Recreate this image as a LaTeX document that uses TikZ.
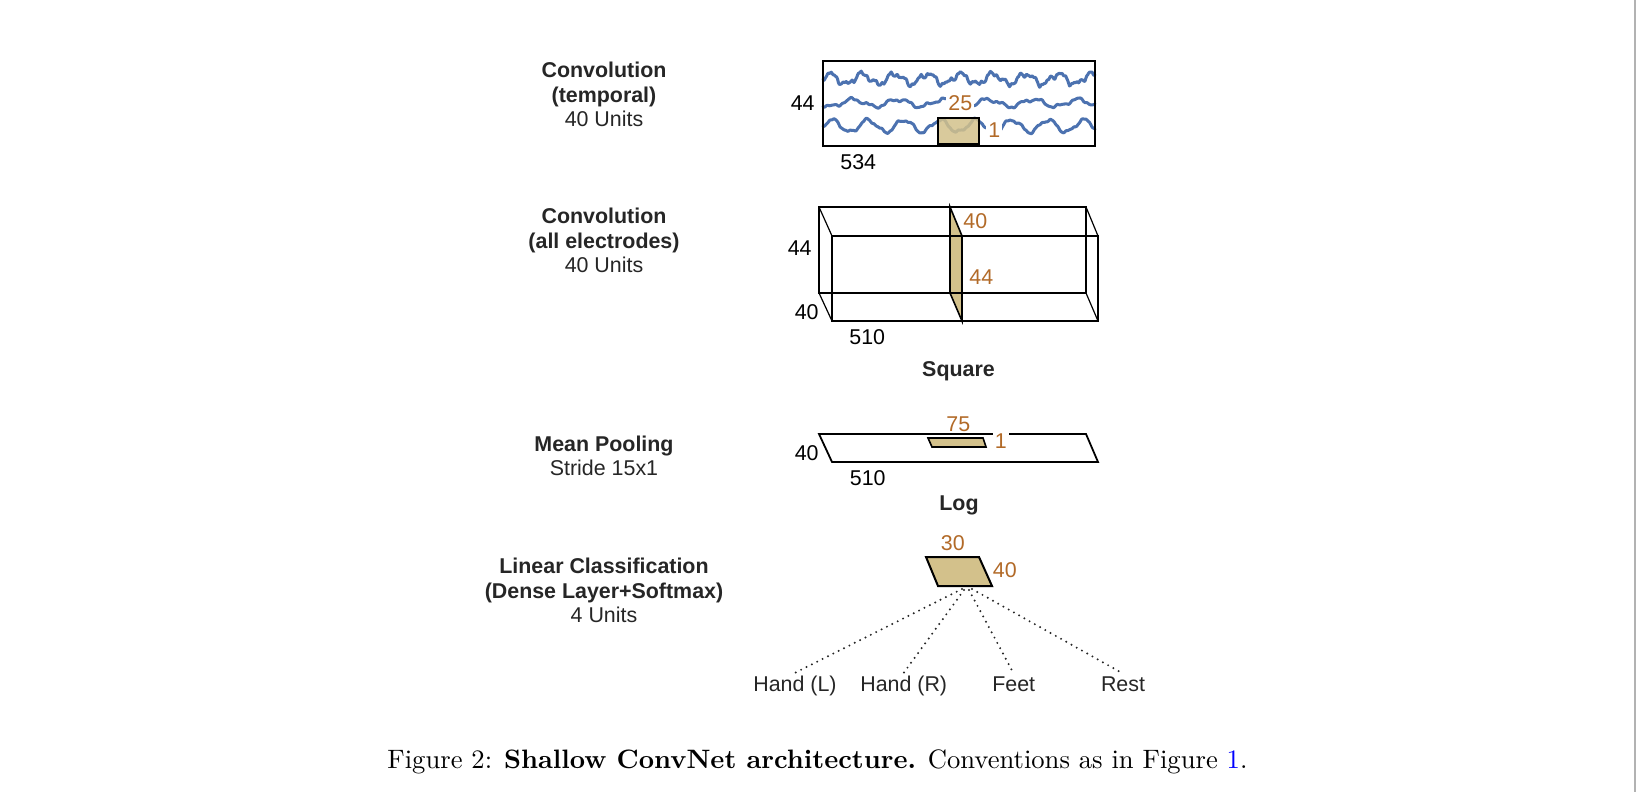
\documentclass[tikz,border=0pt]{standalone}
\usepackage{fontspec}
\usepackage{graphicx}
\newfontfamily\arial{Liberation Sans}
\definecolor{tanfill}{RGB}{211,193,139}
\definecolor{numcol}{RGB}{178,106,40}
\definecolor{wavecol}{RGB}{76,114,176}
\definecolor{txtcol}{RGB}{38,38,38}
\definecolor{linkblue}{RGB}{0,0,255}
\definecolor{edgegray}{RGB}{178,178,178}
\tikzset{
  lbl/.style={font=\arial\fontsize{10.7}{12.3}\selectfont, inner sep=0pt, text=txtcol},
  num/.style={font=\arial\fontsize{10.7}{12.3}\selectfont, inner sep=0pt, text=black},
  bnum/.style={font=\arial\fontsize{10.7}{12.3}\selectfont, inner sep=1pt, text=numcol, fill=white},
  wave/.style={draw=wavecol, line width=1.5pt, line join=round, line cap=round},
  thinedge/.style={draw=black, line width=0.6pt},
  thickedge/.style={draw=black, line width=0.9pt},
  tanbox/.style={fill=tanfill, draw=black, line width=0.8pt},
  dotline/.style={draw=black!85, line width=1.1pt, line cap=round, dash pattern=on 0pt off 3pt},
}
\begin{document}
\begin{tikzpicture}[x=0.5pt, y=-0.5pt]
\useasboundingbox (0,0) rectangle (1636,792);
\fill[white] (0,0) rectangle (1636,792);
\fill[edgegray] (1634,0) rectangle (1636,792);

% ---------- left column titles ----------
\node[lbl, anchor=base] (t1) at (604,77.7) {\begin{tabular}[t]{@{}c@{}}\bfseries Convolution\\ \bfseries (temporal)\\ 40 Units\end{tabular}};
\node[lbl, anchor=base] (t2) at (604,223.4) {\begin{tabular}[t]{@{}c@{}}\bfseries Convolution\\ \bfseries (all electrodes)\\ 40 Units\end{tabular}};
\node[lbl, anchor=base] (t3) at (604,451) {\begin{tabular}[t]{@{}c@{}}\bfseries Mean Pooling\\ Stride 15x1\end{tabular}};
\node[lbl, anchor=base] (t4) at (604,573.4) {\begin{tabular}[t]{@{}c@{}}\bfseries Linear Classification\\ \bfseries (Dense Layer+Softmax)\\ 4 Units\end{tabular}};

% ---------- layer 1: temporal convolution ----------
\draw[wave] plot[domain=0:272, samples=300] ({823+\x}, {79 + 5*sin(11*\x+200) + 2*sin(25*\x+40) + 1.2*sin(47*\x+10) + 0.7*sin(72*mod(\x,5)) + 0.5*sin(120*mod(\x,3))});
\draw[wave] plot[domain=0:272, samples=240] ({823+\x}, {103 + 3.5*sin(8*\x+30) + 1.5*sin(19*\x+100) + 0.6*sin(47*\x+60) + 0.3*sin(72*mod(\x,5))});
\draw[wave] plot[domain=0:272, samples=240] ({823+\x}, {126 + 6*sin(10*\x+180) + 1.5*sin(23*\x+10) + 0.5*sin(47*\x) + 0.3*sin(90*mod(\x,4))});
\path[tanbox, fill opacity=0.85] (938,118) rectangle (979,144);
\node[bnum, anchor=base west] (k25) at (946,110.7) {25};
\node[bnum, anchor=base west] (k1) at (986,137.7) {1};
\draw[line width=1pt] (823,61) rectangle (1095,146);
\node[num, anchor=base east] (c1h) at (815,110.7) {44};
\node[num, anchor=base west] (c1w) at (840,169.7) {534};

% ---------- layer 2: spatial convolution ----------
\path[tanbox] (950,207) -- (962,236) -- (962,321) -- (950,293) -- cycle;
\draw[thinedge] (819,207) rectangle (1086,293);
\draw[thinedge] (819,207) -- (832,236);
\draw[thinedge] (1086,207) -- (1098,236);
\draw[thinedge] (819,293) -- (832,321);
\draw[thinedge] (1086,293) -- (1098,321);
\draw[thickedge] (832,236) rectangle (1098,321);
\node[num, anchor=base east] (c2h) at (812,255.7) {44};
\node[num, anchor=base east] (c2d) at (819,319.7) {40};
\node[num, anchor=base west] (c2w) at (849,344.4) {510};
\node[bnum, fill=none, inner sep=0pt, anchor=base west] (k40) at (963,228.4) {40};
\node[bnum, fill=none, inner sep=0pt, anchor=base west] (k44) at (969,284.7) {44};

\node[lbl, font=\arial\bfseries\fontsize{10.7}{12.3}\selectfont, anchor=base] (sq) at (958.5,376.7) {Square};

% ---------- layer 3: mean pooling ----------
\draw[thickedge] (819,434) -- (1086,434) -- (1098,462) -- (832,462) -- cycle;
\path[tanbox] (928,438) -- (983,438) -- (986,447) -- (932,447) -- cycle;
\node[bnum, anchor=base west] (p75) at (944,431) {75};
\node[bnum, anchor=base west] (p1) at (992.5,448.4) {1};
\node[num, anchor=base east] (p40) at (819,460.7) {40};
\node[num, anchor=base west] (p510) at (849.5,485.7) {510};

\node[lbl, font=\arial\bfseries\fontsize{10.7}{12.3}\selectfont, anchor=base] (lg) at (959,510) {Log};

% ---------- layer 4: classification ----------
\path[tanbox, line width=1pt] (926,557) -- (979,557) -- (992,586) -- (938,586) -- cycle;
\node[bnum, fill=none, inner sep=0pt, anchor=base west] (f30) at (940.5,550.4) {30};
\node[bnum, fill=none, inner sep=0pt, anchor=base west] (f40) at (992.5,577.7) {40};

\node[lbl, inner sep=1.5pt, anchor=base] (hl) at (795,691.7) {Hand (L)};
\node[lbl, inner sep=1.5pt, anchor=base] (hr) at (903.7,691.7) {Hand (R)};
\node[lbl, inner sep=1.5pt, anchor=base] (ft) at (1013.7,691.7) {Feet};
\node[lbl, inner sep=1.5pt, anchor=base] (rs) at (1123,691.7) {Rest};

\coordinate (o1) at (962,589);
\coordinate (o2) at (964,590);
\coordinate (o3) at (969,590);
\coordinate (o4) at (972,589);
\draw[dotline] (o1) -- (hl.north);
\draw[dotline] (o2) -- (hr.north);
\draw[dotline] (o3) -- (ft.north);
\draw[dotline] (o4) -- (rs.north);

% ---------- caption ----------
\node[anchor=base west, inner sep=0pt] (cap) at (387,768.3) {\resizebox{430pt}{!}{Figure 2: \textbf{Shallow ConvNet architecture.} Conventions as in Figure \textcolor{linkblue}{1}.}};
\end{tikzpicture}
\end{document}
